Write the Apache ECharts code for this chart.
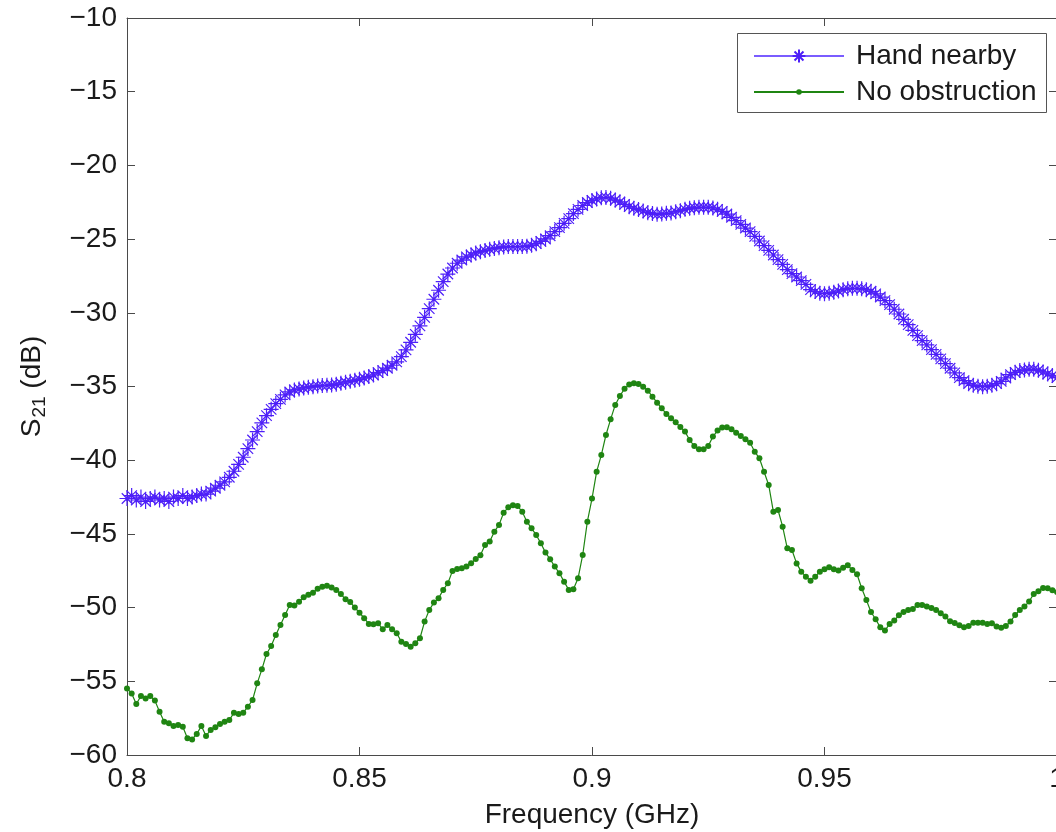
<!DOCTYPE html>
<html>
<head>
<meta charset="utf-8">
<script src="https://cdn.jsdelivr.net/npm/echarts@6/dist/echarts.min.js"></script>
<style>
  html, body { margin: 0; padding: 0; background: #ffffff; }
  #chart { width: 1056px; height: 832px; }
</style>
</head>
<body>
<div id="chart"></div>
<script>
// Frequency sweep: 0.8 GHz to 1.0 GHz in 1 MHz steps
const FREQ_START = 0.8;
const FREQ_STEP = 0.001;

// S21 (dB) measured with a hand close to the antenna
const handNearby = [
  -42.6, -42.4, -42.7, -42.5, -42.8, -42.6, -42.5, -42.7, -42.6, -42.8,
  -42.5, -42.6, -42.4, -42.6, -42.5, -42.4, -42.3, -42.3, -42.1, -41.90,
  -41.70, -41.47, -41.16, -40.75, -40.28, -39.80, -39.21, -38.63, -38.06, -37.47,
  -36.98, -36.55, -36.16, -35.87, -35.57, -35.37, -35.23, -35.17, -35.10, -35.05,
  -35.01, -34.96, -34.94, -34.92, -34.90, -34.85, -34.78, -34.71, -34.65, -34.58,
  -34.51, -34.42, -34.33, -34.22, -34.06, -33.92, -33.76, -33.56, -33.33, -32.97,
  -32.52, -32.00, -31.46, -30.89, -30.31, -29.72, -29.08, -28.47, -27.89, -27.37,
  -26.96, -26.64, -26.42, -26.21, -26.08, -25.94, -25.85, -25.78, -25.69, -25.63,
  -25.58, -25.53, -25.51, -25.51, -25.51, -25.51, -25.49, -25.42, -25.31, -25.15,
  -24.99, -24.77, -24.49, -24.22, -23.93, -23.61, -23.27, -22.98, -22.72, -22.52,
  -22.38, -22.28, -22.19, -22.17, -22.23, -22.35, -22.48, -22.64, -22.80, -22.91,
  -23.00, -23.09, -23.21, -23.27, -23.32, -23.30, -23.25, -23.23, -23.14, -23.07,
  -22.98, -22.91, -22.87, -22.84, -22.84, -22.84, -22.89, -22.98, -23.12, -23.30,
  -23.52, -23.75, -24.00, -24.25, -24.49, -24.81, -25.13, -25.44, -25.76, -26.08,
  -26.39, -26.71, -27.07, -27.34, -27.57, -27.82, -28.07, -28.43, -28.56, -28.68,
  -28.70, -28.68, -28.61, -28.52, -28.43, -28.36, -28.34, -28.34, -28.36, -28.43,
  -28.54, -28.72, -28.93, -29.17, -29.45, -29.76, -30.08, -30.44, -30.80, -31.19,
  -31.55, -31.89, -32.18, -32.50, -32.82, -33.13, -33.45, -33.76, -34.08, -34.40,
  -34.60, -34.81, -34.92, -34.99, -35.01, -34.99, -34.92, -34.81, -34.65, -34.42,
  -34.19, -34.04, -33.92, -33.88, -33.83, -33.83, -33.90, -34.01, -34.15, -34.26,
  -34.40
];

// S21 (dB) with a clear path between the antennas
const noObstruction = [
  -55.48, -55.82, -56.54, -56.00, -56.16, -56.00, -56.31, -57.06, -57.74, -57.85,
  -58.03, -57.96, -58.08, -58.87, -58.94, -58.57, -58.03, -58.71, -58.30, -58.12,
  -57.90, -57.74, -57.63, -57.13, -57.22, -57.13, -56.72, -56.27, -55.14, -54.19,
  -53.15, -52.61, -51.86, -51.18, -50.50, -49.82, -49.85, -49.60, -49.30, -49.12,
  -48.99, -48.72, -48.58, -48.51, -48.63, -48.81, -49.08, -49.44, -49.62, -50.00,
  -50.35, -50.72, -51.11, -51.13, -51.06, -51.47, -51.18, -51.47, -51.74, -52.31,
  -52.47, -52.65, -52.42, -52.08, -50.95, -50.16, -49.66, -49.37, -48.80, -48.35,
  -47.51, -47.38, -47.33, -47.22, -46.99, -46.70, -46.45, -45.75, -45.52, -44.85,
  -44.39, -43.56, -43.20, -43.06, -43.11, -43.49, -44.17, -44.62, -45.07, -45.64,
  -46.27, -46.72, -47.22, -47.67, -48.24, -48.80, -48.76, -48.01, -46.43, -44.17,
  -42.60, -40.78, -39.65, -38.29, -37.23, -36.25, -35.64, -35.15, -34.87, -34.78,
  -34.83, -35.01, -35.28, -35.69, -36.10, -36.48, -36.86, -37.16, -37.43, -37.75,
  -38.06, -38.63, -39.04, -39.26, -39.26, -39.04, -38.40, -37.99, -37.79, -37.77,
  -37.90, -38.13, -38.36, -38.58, -38.81, -39.42, -39.87, -40.78, -41.68, -43.49,
  -43.38, -44.51, -45.98, -46.09, -47.00, -47.56, -47.90, -48.17, -47.90, -47.56,
  -47.40, -47.27, -47.40, -47.49, -47.29, -47.13, -47.45, -47.74, -48.69, -49.48,
  -50.30, -50.79, -51.34, -51.56, -51.11, -50.88, -50.52, -50.30, -50.16, -50.09,
  -49.82, -49.82, -49.93, -50.02, -50.16, -50.39, -50.61, -50.93, -51.04, -51.20,
  -51.34, -51.25, -51.02, -51.02, -51.02, -51.11, -51.06, -51.29, -51.36, -51.25,
  -50.95, -50.50, -50.16, -49.93, -49.59, -49.07, -48.89, -48.67, -48.69, -48.83,
  -48.95
];

// Axis tick labels
const xTickValues = [0.8, 0.85, 0.9, 0.95, 1.0];
const xTickLabels = ['0.8', '0.85', '0.9', '0.95', '1'];
const yTickValues = [-10, -15, -20, -25, -30, -35, -40, -45, -50, -55, -60];
const yTickLabels = ['\u221210', '\u221215', '\u221220', '\u221225', '\u221230', '\u221235',
                     '\u221240', '\u221245', '\u221250', '\u221255', '\u221260'];

const seriesNames = ['Hand nearby', 'No obstruction'];

const freq = handNearby.map((_, i) => +(FREQ_START + i * FREQ_STEP).toFixed(4));

const FONT = '"Liberation Sans", Arial, Helvetica, sans-serif';
const TEXT = '#1a1a1a';
const AXIS = '#4a4a4a';
const BLUE = '#4d1ff8';
const GREEN = '#1f8512';

// MATLAB-style asterisk marker (plus + cross)
const ASTERISK = 'path://M0,5L10,5M5,0L5,10M1.5,1.5L8.5,8.5M8.5,1.5L1.5,8.5';

function labelFor(values, labels) {
  return v => {
    const idx = values.findIndex(t => Math.abs(t - v) < 1e-9);
    return idx >= 0 ? labels[idx] : '';
  };
}

const chart = echarts.init(document.getElementById('chart'), null, { renderer: 'canvas' });

const tickStyle = { show: true, inside: true, length: 8, lineStyle: { color: AXIS, width: 1 } };
const lineStyle = { show: true, lineStyle: { color: AXIS, width: 1 } };
const legendText = { fontFamily: FONT, fontSize: 28, color: TEXT, lineHeight: 28, padding: [0, 0, 0, 7] };

chart.setOption({
  animation: false,
  backgroundColor: '#ffffff',
  grid: { left: 127, top: 18, width: 930, height: 737, containLabel: false, outerBoundsMode: 'none' },
  graphic: [{
    type: 'rect', z: 3,
    shape: { x: 737.5, y: 33.5, width: 309, height: 79 },
    style: { fill: '#ffffff', stroke: '#555555', lineWidth: 1 }
  }],
  legend: [{
    data: [seriesNames[0]],
    left: 753, top: 42, padding: 0, z: 5,
    itemWidth: 90, itemHeight: 16,
    textStyle: legendText
  }, {
    data: [seriesNames[1]],
    left: 753, top: 78, padding: 0, z: 5,
    itemWidth: 90, itemHeight: 7,
    textStyle: legendText
  }],
  xAxis: [{
    type: 'value', position: 'bottom',
    min: 0.8, max: 1.0, interval: 0.05,
    name: 'Frequency (GHz)', nameLocation: 'middle', nameGap: 46,
    nameTextStyle: { fontFamily: FONT, fontSize: 28, color: TEXT },
    axisLine: lineStyle, axisTick: tickStyle, splitLine: { show: false },
    axisLabel: { margin: 10, fontFamily: FONT, fontSize: 28, color: TEXT,
                 formatter: labelFor(xTickValues, xTickLabels) }
  }, {
    type: 'value', position: 'top',
    min: 0.8, max: 1.0, interval: 0.05,
    axisLine: lineStyle, axisTick: tickStyle, splitLine: { show: false },
    axisLabel: { show: false }
  }],
  yAxis: [{
    type: 'value', position: 'left',
    min: -60, max: -10, interval: 5,
    name: '{s|S}{sub|21}{s| (dB)}', nameLocation: 'middle', nameGap: 78, nameRotate: 90,
    nameTextStyle: {
      fontFamily: FONT, color: TEXT,
      rich: {
        s: { fontFamily: FONT, fontSize: 28, color: TEXT },
        sub: { fontFamily: FONT, fontSize: 19, color: TEXT, padding: [14, 0, 0, 1] }
      }
    },
    axisLine: lineStyle, axisTick: tickStyle, splitLine: { show: false },
    axisLabel: { margin: 10, fontFamily: FONT, fontSize: 28, color: TEXT,
                 formatter: labelFor(yTickValues, yTickLabels) }
  }, {
    type: 'value', position: 'right',
    min: -60, max: -10, interval: 5,
    axisLine: lineStyle, axisTick: tickStyle, splitLine: { show: false },
    axisLabel: { show: false }
  }],
  series: [{
    name: seriesNames[0],
    type: 'line',
    xAxisIndex: 0, yAxisIndex: 0,
    data: freq.map((f, i) => [f, handNearby[i]]),
    symbol: ASTERISK, symbolSize: 15, showAllSymbol: true,
    lineStyle: { color: '#7a5cff', width: 1 },
    itemStyle: { color: 'rgba(0,0,0,0)', borderColor: BLUE, borderWidth: 1.2 },
    emphasis: { disabled: true },
    z: 2
  }, {
    name: seriesNames[1],
    type: 'line',
    xAxisIndex: 0, yAxisIndex: 0,
    data: freq.map((f, i) => [f, noObstruction[i]]),
    symbol: 'circle', symbolSize: 6, showAllSymbol: true,
    lineStyle: { color: GREEN, width: 1.2 },
    itemStyle: { color: GREEN, borderWidth: 0 },
    emphasis: { disabled: true },
    z: 3
  }]
});
</script>
</body>
</html>
